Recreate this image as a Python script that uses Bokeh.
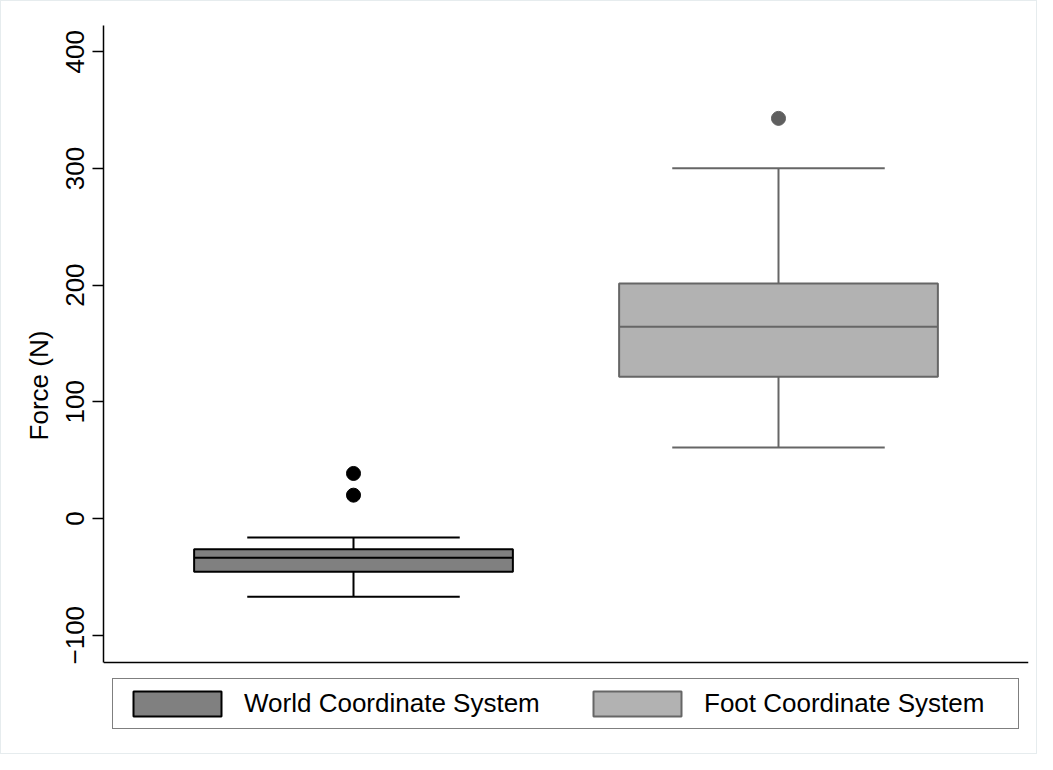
from bokeh.plotting import figure
from bokeh.models import Range1d, FixedTicker, Legend, LegendItem
from bokeh.embed import file_html
from bokeh.resources import INLINE

# ---- data ----
groups = ["World Coordinate System", "Foot Coordinate System"]
positions = [1, 2]
q1 = [-45.7, 121.4]
median = [-33.7, 164.3]
q3 = [-26.3, 201.4]
lower_whisker = [-67.1, 60.9]
upper_whisker = [-16.3, 300.2]
outlier_group = [0, 0, 1]
outlier_values = [38.6, 20.0, 342.9]
y_ticks = [-100, 0, 100, 200, 300, 400]
y_tick_labels = ["\u2212100", "0", "100", "200", "300", "400"]
y_axis_min, y_axis_max = -123.4, 422.5

# ---- styles ----
fill_colors = ["#808080", "#b2b2b2"]
line_colors = ["#000000", "#666666"]
outlier_colors = ["#000000", "#5f5f5f"]
FONT = "Liberation Sans"
box_w = 0.75
cap_w = 0.5

# frame extends below the axis so the legend can sit inside the canvas
px_per_unit = 637.0 / (y_axis_max - y_axis_min)
frame_h = 720.0
y_start = y_axis_max - frame_h / px_per_unit

p = figure(width=1037, height=754, output_backend="svg", toolbar_location=None,
           x_range=Range1d(0.41176, 2.58824), y_range=Range1d(y_start, y_axis_max),
           min_border_left=102, min_border_right=10, min_border_top=24, min_border_bottom=10)
p.styles = {"border": "1px solid #e6ecee"}
p.outline_line_color = None
p.xgrid.visible = False
p.ygrid.visible = False
p.background_fill_color = "white"
p.border_fill_color = "white"

box_renderers = []
for i, g in enumerate(groups):
    x = positions[i]
    lc = line_colors[i]
    # whiskers
    p.segment(x0=[x, x], y0=[q3[i], q1[i]], x1=[x, x], y1=[upper_whisker[i], lower_whisker[i]],
              line_color=lc, line_width=2)
    # caps
    p.segment(x0=[x - cap_w / 2, x - cap_w / 2], y0=[upper_whisker[i], lower_whisker[i]],
              x1=[x + cap_w / 2, x + cap_w / 2], y1=[upper_whisker[i], lower_whisker[i]],
              line_color=lc, line_width=2)
    # box
    r = p.vbar(x=[x], width=box_w, bottom=[q1[i]], top=[q3[i]],
               fill_color=fill_colors[i], line_color=lc, line_width=2)
    box_renderers.append(r)
    # median
    p.segment(x0=[x - box_w / 2], y0=[median[i]], x1=[x + box_w / 2], y1=[median[i]],
              line_color=lc, line_width=2)
    # outliers
    ov = [v for gi, v in zip(outlier_group, outlier_values) if gi == i]
    p.scatter(x=[x] * len(ov), y=ov, size=14, marker="circle",
              fill_color=outlier_colors[i], line_color=outlier_colors[i])

# y axis
ya = p.yaxis[0]
ya.bounds = (y_axis_min, y_axis_max)
ya.ticker = FixedTicker(ticks=y_ticks)
ya.major_label_overrides = {t: l for t, l in zip(y_ticks, y_tick_labels)}
ya.major_label_orientation = "vertical"
ya.major_label_text_font = FONT
ya.major_label_text_font_size = "26px"
ya.major_label_text_color = "black"
ya.major_label_standoff = 8
ya.major_tick_out = 11
ya.major_tick_in = 0
ya.minor_tick_out = 0
ya.minor_tick_in = 0
ya.axis_line_color = "black"
ya.axis_line_width = 1.5
ya.major_tick_line_color = "black"
ya.major_tick_line_width = 1.5
ya.axis_label = "Force (N)"
ya.axis_label_text_font = FONT
ya.axis_label_text_font_size = "26px"
ya.axis_label_text_font_style = "normal"
ya.axis_label_text_color = "black"
ya.axis_label_standoff = 10

# x axis: line only, at the bottom of the value range
xa = p.xaxis[0]
xa.fixed_location = y_axis_min
xa.ticker = FixedTicker(ticks=[])
xa.major_label_text_font_size = "0px"
xa.major_tick_out = 0
xa.major_tick_in = 0
xa.minor_tick_out = 0
xa.minor_tick_in = 0
xa.axis_line_color = "black"
xa.axis_line_width = 1.5

legend = Legend(
    items=[LegendItem(label=g, renderers=[box_renderers[i]]) for i, g in enumerate(groups)],
    orientation="horizontal", location=(9, 16),
    glyph_width=110, glyph_height=31, label_standoff=12, spacing=33,
    padding=9, margin=0, label_width=305,
    label_text_font=FONT, label_text_font_size="26px", label_text_color="black",
    border_line_color="black", border_line_width=1.5,
    background_fill_color="white", background_fill_alpha=1.0,
)
p.add_layout(legend)

open("out.html", "w").write(file_html(p, INLINE))
